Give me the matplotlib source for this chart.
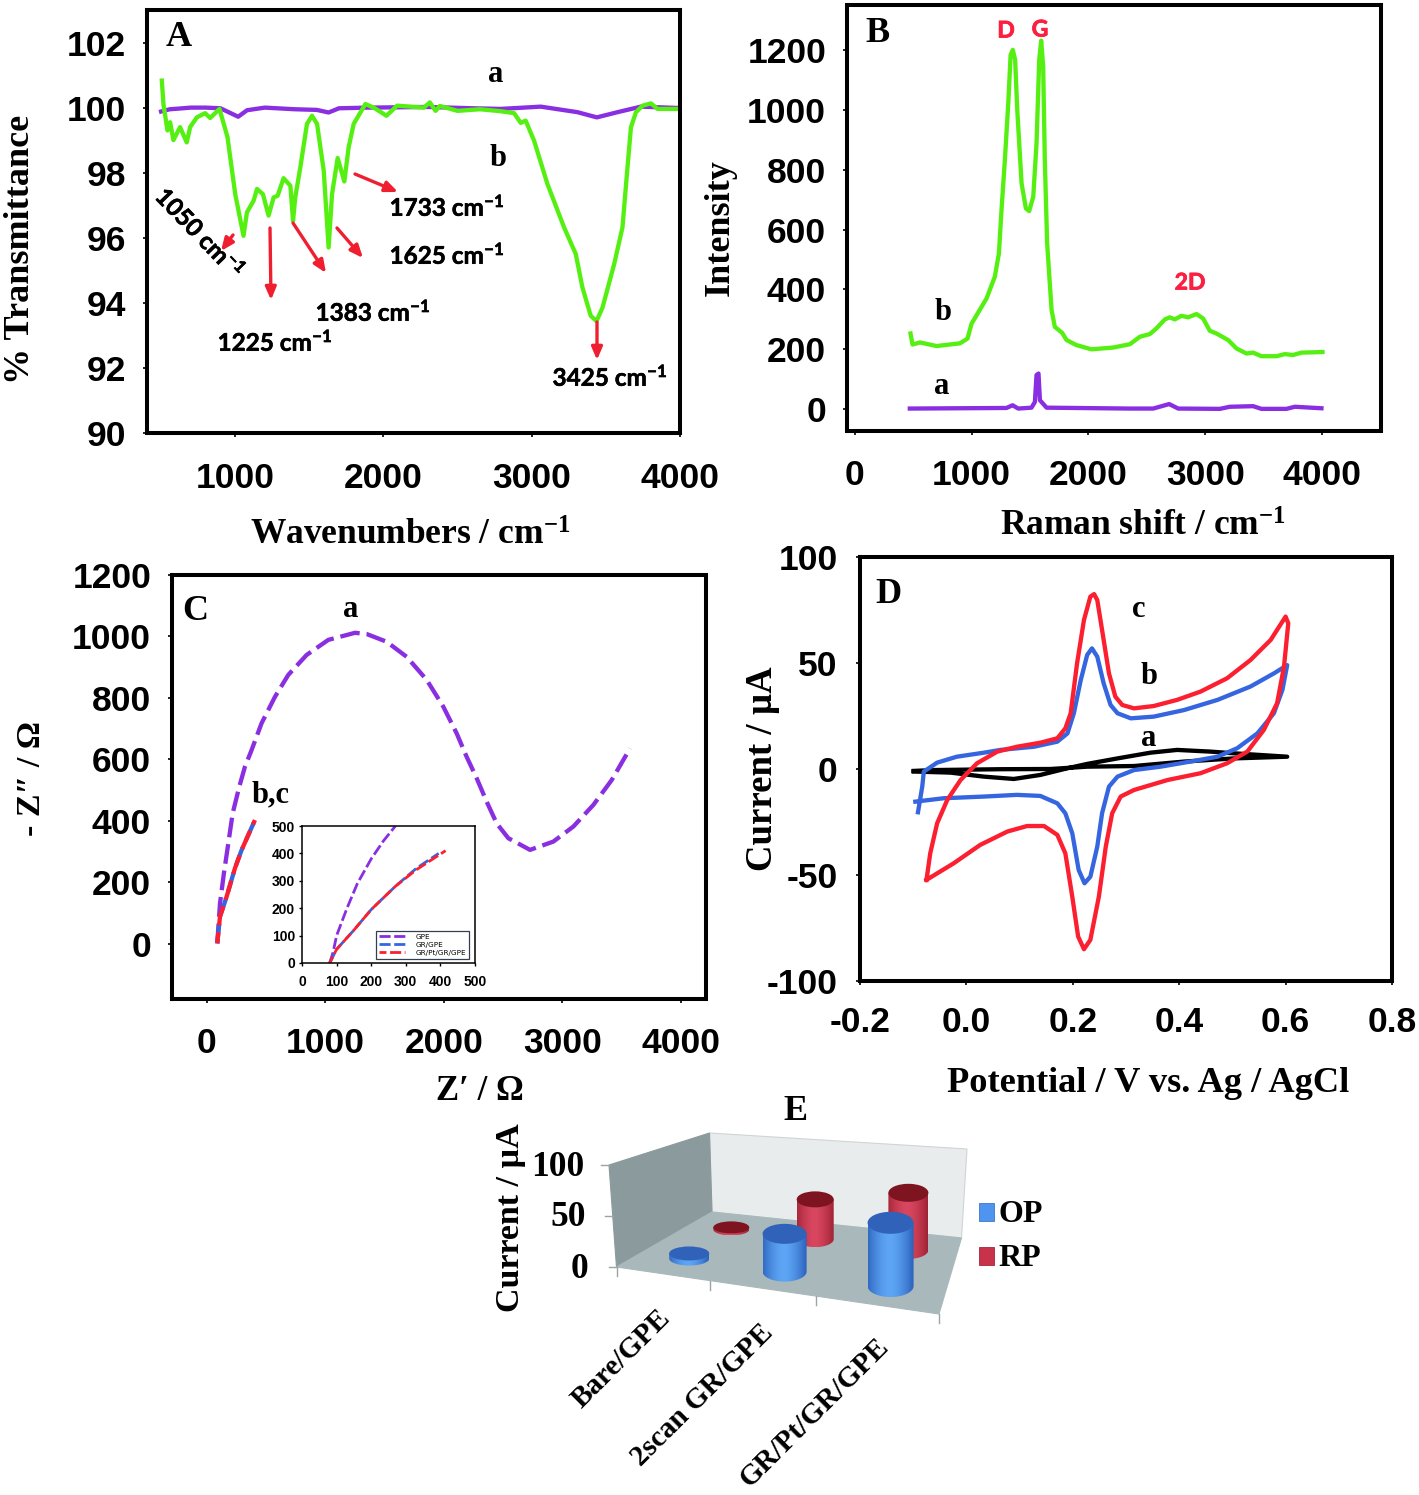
import numpy as np
import matplotlib
matplotlib.use("Agg")
import matplotlib.pyplot as plt
import matplotlib.patheffects as pe
from matplotlib.patches import Polygon, Ellipse, Rectangle, PathPatch
from matplotlib.path import Path

W, H = 1419, 1495
SERIF = "Liberation Serif"
SANS = "Liberation Sans"
CAL = "Lato"
PURPLE = "#8a2ee2"
GREEN = "#55f012"
RED = "#fb1f30"
BLUE = "#3566e0"

# ---------- panel A ----------
a_wn_b = [505,516,543,561,583,628,673,696,741,797,831,894,948,1000,1056,1079,1124,1147,1187,1225,1259,1286,1326,1372,1390,1405,1439,1484,1518,1552,1597,1630,1653,1691,1736,1765,1799,1878,1934,2020,2092,2272,2313,2351,2380,2500,2650,2790,2881,2926,2959,3016,3106,3218,3297,3342,3398,3437,3477,3556,3612,3642,3669,3703,3748,3804,3849,3984]
a_t_b = [100.83,100.1,99.3,99.55,99.0,99.4,98.93,99.4,99.7,99.83,99.68,99.96,99.09,97.34,96.06,96.78,97.14,97.5,97.34,96.68,97.24,97.29,97.83,97.6,96.52,97.24,98.16,99.5,99.75,99.5,98.06,95.7,97.34,98.45,97.73,98.78,99.5,100.11,100.0,99.75,100.06,100.0,100.16,99.9,100.05,99.9,99.95,99.89,99.83,99.53,99.6,98.98,97.65,96.32,95.5,94.47,93.6,93.44,93.85,95.19,96.32,97.96,99.39,99.86,100.06,100.13,99.96,99.96]
a_wn_a = [500,560,620,700,800,900,960,1020,1080,1200,1400,1550,1630,1700,1900,2300,2600,2790,3061,3308,3439,3579,3736,3984]
a_t_a = [99.88,99.95,99.97,100.0,100.0,99.98,99.85,99.72,99.92,100.0,99.95,99.93,99.85,99.98,100.0,100.02,99.98,99.96,100.03,99.86,99.7,99.86,100.03,99.99]
a_xticks = [1000,2000,3000,4000]
a_yticks = [90,92,94,96,98,100,102]
a_peaks = ["1050 cm$^{\\mathdefault{-1}}$","1225 cm$^{\\mathdefault{-1}}$","1383 cm$^{\\mathdefault{-1}}$","1625 cm$^{\\mathdefault{-1}}$","1733 cm$^{\\mathdefault{-1}}$","3425 cm$^{\\mathdefault{-1}}$"]

# ---------- panel B ----------
b_wn_b = [476,493,556,699,899,964,999,1127,1198,1233,1255,1284,1313,1333,1352,1372,1390,1427,1464,1492,1527,1555,1578,1595,1612,1626,1646,1684,1712,1775,1812,1898,2026,2212,2354,2440,2525,2582,2654,2696,2739,2796,2853,2925,2982,3039,3096,3196,3267,3353,3410,3481,3610,3681,3752,3824,3924,4004]
b_i_b = [253,216,223,211,220,236,286,370,443,521,665,833,1022,1184,1201,1167,1000,755,671,662,710,888,1167,1232,1145,833,554,331,275,255,231,214,200,206,217,242,251,270,300,307,300,312,307,318,303,262,253,231,203,186,189,177,177,184,181,189,190,191]
b_wn_a = [470,1298,1350,1398,1512,1541,1555,1572,1584,1641,2354,2554,2691,2768,3125,3210,3410,3481,3695,3767,3995]
b_i_a = [2,4,13,2,5,24,114,119,30,5,2,2,17,2,1,8,10,1,1,8,3]
b_xticks = [0,1000,2000,3000,4000]
b_yticks = [0,200,400,600,800,1000,1200]

# ---------- panel C ----------
c_x_a = [87,110,143,180,217,273,321,377,461,574,686,841,1024,1249,1348,1516,1685,1854,1994,2107,2191,2276,2360,2445,2543,2726,2923,3092,3260,3415,3570]
c_y_a = [2,132,230,327,425,512,577,631,718,804,875,940,989,1012,1008,983,934,859,772,685,609,539,463,392,344,306,333,382,452,533,636]
c_x_bc = [87,110,166,236,293,405]
c_y_bc = [2,89,154,246,306,403]
c_xticks = [0,1000,2000,3000,4000]
c_yticks = [0,200,400,600,800,1000,1200]
inset_x_a = [80,90,100,130,160,200,235,270]
inset_y_a = [0,40,100,200,290,380,445,500]
inset_x_b = [80,100,150,200,270,330,395]
inset_y_b = [0,50,120,195,280,345,400]
inset_x_c = [80,100,150,200,270,330,415]
inset_y_c = [0,50,120,195,280,340,410]
inset_ticks = [0,100,200,300,400,500]
inset_names = ["GPE","GR/GPE","GR/Pt/GR/GPE"]

# ---------- panel D ----------
d_x_c = [-.075,-.068,-.055,-.036,-.011,.020,.058,.095,.139,.171,.186,.196,.208,.221,.233,.240,.246,.255,.268,.280,.293,.315,.352,.396,.440,.490,.534,.572,.600,.605,.597,.584,.559,.528,.490,.440,.378,.315,.290,.274,.262,.249,.233,.221,.210,.199,.186,.171,.146,.114,.077,.026,-.024,-.075]
d_y_c = [-52.3,-39.8,-25.6,-14.6,-5.2,2.7,8.2,10.5,12.4,14.5,19.2,26.3,49.8,70.3,81.3,82.5,79.7,65.6,45.1,34.1,30.2,28.6,29.7,32.6,36.5,42.8,51.4,60.9,71.9,68.7,48.3,31,18.4,8.2,2.7,-2,-5.2,-9.9,-13,-20.9,-36.6,-60.2,-80.6,-85,-79,-60.2,-39.8,-31.1,-26.9,-26.9,-29.5,-35.8,-44.5,-52.3]
d_x_b = [-.091,-.083,-.080,-.055,-.018,.033,.064,.127,.171,.190,.202,.215,.227,.236,.246,.258,.271,.284,.309,.352,.409,.472,.534,.578,.603,.594,.578,.547,.509,.472,.421,.365,.315,.284,.268,.255,.246,.233,.222,.211,.199,.186,.171,.139,.095,.033,-.043,-.096]
d_y_b = [-20.4,-8.3,-1.2,3,5.8,7.7,9,10.5,12.9,16.8,26.3,42,53.8,56.9,53,40.4,30.2,26.3,23.9,24.7,27.8,32.6,38.9,45.1,49,37.3,26.3,16.8,9.8,5.8,3.5,1.1,-.5,-3.6,-8.3,-20.9,-36.6,-50.8,-53.9,-47.6,-30.3,-20.9,-16.2,-12.7,-12.2,-13,-13.8,-15.4]
d_x_a = [-.099,-.030,.033,.089,.139,.189,.227,.284,.346,.396,.459,.503,.603,.503,.409,.315,.227,.158,.064,-.061,-.099]
d_y_a = [-1.2,-1.7,-3.6,-4.7,-2.8,.3,2.4,5.0,7.7,9,8.2,7.4,5.8,5.0,3.5,1.4,1.1,0,-.1,-.5,-.9]
d_xticks = [-.2,0,.2,.4,.6,.8]
d_yticks = [-100,-50,0,50,100]

# ---------- panel E ----------
e_categories = ["Bare/GPE","2scan GR/GPE","GR/Pt/GR/GPE"]
e_op = [5,37,62]
e_rp = [2,39,56]
e_yticks = [0,50,100]

plt.rcParams["mathtext.default"] = "regular"
fig = plt.figure(figsize=(W/100, H/100), dpi=100, facecolor="white")

def box(l, t, r, b):
    return fig.add_axes([l/W, 1-b/H, (r-l)/W, (b-t)/H])

def ftext(x, y, s, size=25, fam=SERIF, color="black", rot=0, weight="bold", stroke=0):
    t = fig.text(x/W, 1-y/H, s, fontsize=size, family=fam, color=color, rotation=rot,
                 weight=weight, ha="center", va="center", rotation_mode="anchor", zorder=20)
    if stroke:
        t.set_path_effects([pe.withStroke(linewidth=stroke, foreground=color)])
    return t

def style(ax, xt, yt, xl, yl, xfmt=None, size=25.5, sw=2.9, xpad=6, ypad=12):
    ax.set_xlim(*xl); ax.set_ylim(*yl)
    ax.set_xticks(xt); ax.set_yticks(yt)
    ax.set_xticklabels([(xfmt % v) if xfmt else str(v) for v in xt])
    ax.set_yticklabels([str(v) for v in yt])
    for s in ax.spines.values():
        s.set_linewidth(sw)
    ax.tick_params(length=3, width=1.2, labelsize=size)
    ax.tick_params(axis="x", pad=xpad)
    ax.tick_params(axis="y", pad=ypad)
    for t in ax.get_xticklabels() + ax.get_yticklabels():
        t.set_family(SANS); t.set_weight("bold")

LW = 3.1
# A
axA = box(147, 10, 680, 433)
style(axA, a_xticks, a_yticks, (405, 4000), (90, 103.0), xpad=18)
axA.plot(a_wn_a, a_t_a, color=PURPLE, lw=LW)
axA.plot(a_wn_b, a_t_b, color=GREEN, lw=LW)

# B
axB = box(847, 5, 1381, 431)
style(axB, b_xticks, b_yticks, (-68, 4505), (-73, 1351), xpad=17)
axB.plot(b_wn_b, b_i_b, color=GREEN, lw=LW)
axB.plot(b_wn_a, b_i_a, color=PURPLE, lw=LW)

# C
axC = box(172, 575, 706, 999)
style(axC, c_xticks, c_yticks, (-295, 4211), (-179, 1200), xpad=17)
dash = (0, (4.6, 1.6))
axC.plot(c_x_a, c_y_a, color=PURPLE, lw=LW, ls=dash)
axC.plot(c_x_bc, c_y_bc, color=BLUE, lw=LW, ls=dash)
axC.plot(c_x_bc, c_y_bc, color=RED, lw=LW, ls=(2, (4.6, 1.6)))

axI = box(302, 826, 475, 963)
style(axI, inset_ticks, inset_ticks, (0, 500), (0, 500), size=10, sw=1.1, xpad=7, ypad=3)
axI.tick_params(length=2, width=1)
d2 = (0, (4, 1.3))
axI.plot(inset_x_a, inset_y_a, color=PURPLE, lw=2, ls=d2, label=inset_names[0])
axI.plot(inset_x_b, inset_y_b, color=BLUE, lw=2, ls=d2, label=inset_names[1])
axI.plot(inset_x_c, inset_y_c, color=RED, lw=2, ls=(1.5, (4, 1.3)), label=inset_names[2])
leg = axI.legend(loc="lower left", bbox_to_anchor=(0.425, 0.03), fontsize=5.2, frameon=True,
                 fancybox=False, edgecolor="#304050", framealpha=1, borderpad=0.45,
                 labelspacing=0.25, handlelength=3.7, handletextpad=1.4, borderaxespad=0)
leg.get_frame().set_linewidth(0.9)

# D
axD = box(860, 557, 1392, 981)
style(axD, d_xticks, d_yticks, (-.2, .8), (-100, 100), xfmt="%.1f", xpad=15, ypad=13)
axD.plot(d_x_a, d_y_a, color="black", lw=LW)
axD.plot(d_x_b, d_y_b, color=BLUE, lw=LW)
axD.plot(d_x_c, d_y_c, color=RED, lw=LW)

# overlay in pixel units
ov = fig.add_axes([0, 0, 1, 1], zorder=10)
ov.set_xlim(0, W); ov.set_ylim(H, 0); ov.axis("off"); ov.patch.set_alpha(0)

def arrow(x0, y0, x1, y1):
    ov.annotate("", xy=(x1, y1), xytext=(x0, y0),
                arrowprops=dict(arrowstyle="-|>,head_width=0.32,head_length=0.75", color="#f01f30",
                                lw=2.4, shrinkA=0, shrinkB=0))

for seg in [(233,235,221,251),(270,228,271,300),(293,223,326,273),(337,228,363,258),(355,174,398,192),(597,322,597,360)]:
    arrow(*seg)

for (x, y, i) in [(447,207,4),(447,255,3),(373,312,2),(275,342,1),(610,377,5)]:
    ftext(x, y, a_peaks[i], size=17.5, fam=CAL, stroke=0.4)
ftext(200, 233, a_peaks[0], size=17.5, fam=CAL, rot=-46, stroke=0.4)

for x, y, s in [(179,37,"A"),(877,34,"B"),(195,612,"C"),(888,594,"D"),(795,1111,"E")]:
    ftext(x, y, s, size=26)
for x, y, s in [(496,74,"a"),(498,159,"b"),(943,312,"b"),(942,387,"a"),(351,610,"a"),(271,795,"b,c"),(1139,609,"c"),(1149,676,"b"),(1149,738,"a")]:
    ftext(x, y, s, size=22)
for x, y, s in [(1006,31,"D"),(1040,30,"G"),(1190,283,"2D")]:
    ftext(x, y, s, size=16.5, fam=CAL, color="#fb1f40", stroke=0.6)

ftext(410, 536, "Wavenumbers / cm$^{\\mathdefault{-1}}$", size=25.5)
ftext(1143, 527, "Raman shift / cm$^{\\mathdefault{-1}}$", size=25.5)
ftext(480, 1091, "Z\u2032 / \u03a9", size=25)
ftext(1148, 1083, "Potential / V vs. Ag / AgCl", size=26.2)
ftext(21, 249, "% Transmittance", size=26, rot=90)
ftext(720, 228, "Intensity", size=26, rot=90)
ftext(32, 778, "- Z\u2033 / \u03a9", size=24.5, rot=90)
ftext(763, 769, "Current / \u00b5A", size=26.5, rot=90)

# ---------- E : hand-built 3-D chart through a floor projection ----------
FL, BL, FR, BR = map(np.array, [(616.5,1267.),(712.,1212.),(939.,1314.),(961.5,1238.)])
TL, TB, TR = (609,1165),(709.5,1133),(967,1149)
PX_PER_UNIT = 1.02

def floor(u, v):
    front = FL + (FR-FL)*u
    back = BL + (BR-BL)*u
    return front + (back-front)*v

ov.add_patch(Polygon([TB, TR, BR, BL], fc="#e9eced", ec="#cfd4d6", lw=.8, zorder=1))
ov.add_patch(Polygon([TL, TB, BL, FL], fc="#8b9a9c", ec="#8b9a9c", lw=.8, zorder=1))
ov.add_patch(Polygon([FL, BL, BR, FR], fc="#a9b9bb", ec="#a9b9bb", lw=.8, zorder=1))

def cyl(cx, base, height, rx, ry, colors, z):
    top = base - height
    verts = [(cx-rx, top), (cx+rx, top), (cx+rx, base)]
    codes = [Path.MOVETO, Path.LINETO, Path.LINETO]
    t = np.linspace(0, np.pi, 30)
    verts += list(zip(cx+rx*np.cos(t), base+ry*np.sin(t)))
    codes += [Path.LINETO]*30
    verts += [(cx-rx, top)]
    codes += [Path.CLOSEPOLY]
    patch = PathPatch(Path(verts, codes), fc="none", ec="none", transform=ov.transData, zorder=z)
    ov.add_patch(patch)
    xs = np.abs(np.linspace(-1, 1, 64)+0.05)**1.6
    c0, c1 = np.array(matplotlib.colors.to_rgb(colors[0])), np.array(matplotlib.colors.to_rgb(colors[1]))
    img = c0[None, None, :]*(1-xs[None, :, None]) + c1[None, None, :]*xs[None, :, None]
    im = ov.imshow(img, extent=(cx-rx, cx+rx, base+ry, top), aspect="auto", zorder=z, interpolation="bilinear")
    im.set_clip_path(patch)
    ov.add_patch(Ellipse((cx, top), 2*rx, 2*ry, fc=colors[2], ec="none", zorder=z+.1))
    ov.set_xlim(0, W); ov.set_ylim(H, 0)

BLUES = ("#5ea6f5", "#2f66c0", "#2f62b8")
REDS = ("#d8475f", "#a52538", "#7e1420")
U = [0.155, 0.47, 0.82]
rx_op, ry_op = [20, 22, 23], [7, 10, 11]
rx_rp, ry_rp = [18, 18.5, 20], [6, 8, 9]
for i in range(3):
    bx, by = floor(U[i], 0.77)
    cyl(bx, by, e_rp[i]*PX_PER_UNIT, rx_rp[i], ry_rp[i], REDS, 3+i*.5)
for i in range(3):
    bx, by = floor(U[i], 0.27)
    cyl(bx, by, e_op[i]*PX_PER_UNIT, rx_op[i], ry_op[i], BLUES, 5+i*.5)

# axis ticks
for v, lx in zip(e_yticks, [580, 568, 558]):
    y = 1267 - v*PX_PER_UNIT
    x = 616.5 - 7.5*v/100
    ov.plot([x-8, x], [y, y], color="#9aa5a8", lw=1, zorder=2)
    ftext(lx, y+2, str(v), size=25.5)
for u in [0, .29, .62, 1]:
    p = FL + (FR-FL)*u
    ov.plot([p[0], p[0]], [p[1], p[1]+9], color="#9aa5a8", lw=1, zorder=2)

ftext(511, 1218, "Current / \u00b5A", size=24.5, rot=90)
for (x, y), s in zip([(621,1359),(702,1395),(814,1413)], e_categories):
    ftext(x, y, s, size=21, rot=45)

ov.add_patch(Rectangle((979,1203), 15, 18, fc="#4f94ee", ec="#3a78c8", lw=.6))
ov.add_patch(Rectangle((979,1247), 15, 18, fc="#c8324a", ec="#a52538", lw=.6))
ftext(1021, 1214, "OP", size=23)
ftext(1020, 1258, "RP", size=23)

fig.savefig("out.png", dpi=100, facecolor="white")
